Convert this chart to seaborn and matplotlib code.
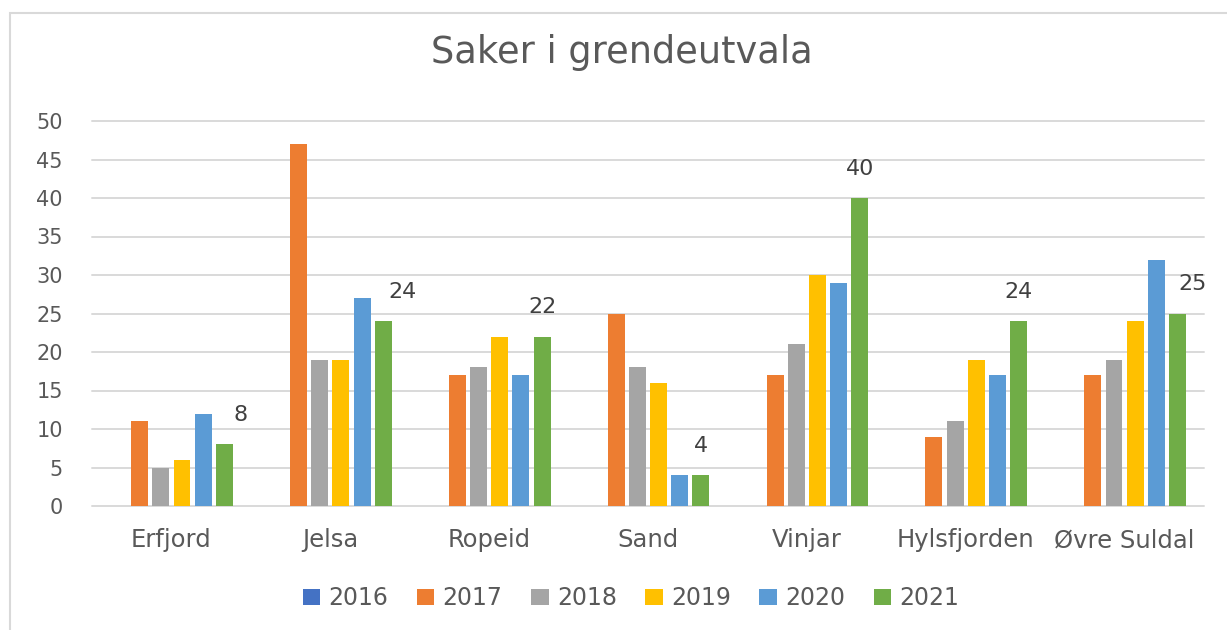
import numpy as np
import pandas as pd
import seaborn as sns
import matplotlib.pyplot as plt
from matplotlib.patches import Rectangle

# Data
grender = ["Erfjord", "Jelsa", "Ropeid", "Sand", "Vinjar", "Hylsfjorden", "Øvre Suldal"]
aar = ["2016", "2017", "2018", "2019", "2020", "2021"]
saker_2016 = [0, 0, 0, 0, 0, 0, 0]
saker_2017 = [11, 47, 17, 25, 17, 9, 17]
saker_2018 = [5, 19, 18, 18, 21, 11, 19]
saker_2019 = [6, 19, 22, 16, 30, 19, 24]
saker_2020 = [12, 27, 17, 4, 29, 17, 32]
saker_2021 = [8, 24, 22, 4, 40, 24, 25]

farger = ["#4472C4", "#ED7D31", "#A5A5A5", "#FFC000", "#5B9BD5", "#70AD47"]
# horizontal nudge (points) of the 2021 labels, as placed in the original
label_dx = [12, 14, 0, 0, 0, 0, 11]

rows = []
for year, vals in zip(aar, [saker_2016, saker_2017, saker_2018, saker_2019, saker_2020, saker_2021]):
    for g, v in zip(grender, vals):
        rows.append({"grend": g, "aar": year, "saker": v})
df = pd.DataFrame(rows)

sns.set_style("white")
plt.rcParams['font.family'] = ['DejaVu Sans']
txt = "#595959"

fig = plt.figure(figsize=(12.27, 6.3), dpi=100)
ax = fig.add_axes([92/1227, 1-506/630, (1204-92)/1227, (506-121)/630])

sns.barplot(data=df, x="grend", y="saker", hue="aar", hue_order=aar,
            palette=farger, saturation=1, width=0.8, gap=0.2, legend=False,
            edgecolor="none", linewidth=0, ax=ax)

ax.set_ylim(0, 50)
ax.set_yticks(np.arange(0, 51, 5))
ax.grid(axis="y", color="#D9D9D9", linewidth=1.4)
for gl in ax.get_ygridlines():
    gl.set_clip_on(False)
ax.set_axisbelow(True)
sns.despine(ax=ax, left=True, bottom=True, top=True, right=True)
ax.set_xlabel("")
ax.set_ylabel("")
ax.tick_params(axis="y", length=0, pad=21, labelsize=15, labelcolor=txt)
ax.tick_params(axis="x", length=0, pad=16, labelsize=17.5, labelcolor=txt)

# data labels for 2021 only
last = ax.containers[-1]
for bar, dx in zip(last.patches, label_dx):
    h = bar.get_height()
    ax.annotate(f"{h:.0f}", (bar.get_x() + bar.get_width()/2, h),
                xytext=(dx, 14), textcoords="offset points",
                ha="center", va="bottom", fontsize=16, color="#404040")

# title
fig.text(622/1227, 1-63/630, "Saker i grendeutvala", ha="center", va="baseline",
         fontsize=26.5, color=txt)

# legend
handles = [Rectangle((0, 0), 1, 1, facecolor=c, edgecolor="none") for c in farger]
fig.legend(handles, aar, loc="center", bbox_to_anchor=(631/1227, 1-598/630),
           ncol=6, frameon=False, fontsize=17, labelcolor=txt,
           handlelength=0.75, handleheight=0.65, handletextpad=0.35,
           columnspacing=1.2)

# chart frame
fig.add_artist(Rectangle((10/1227, -0.1), 1.2, 1-13/630+0.1, transform=fig.transFigure,
                         fill=False, edgecolor="#D9D9D9", linewidth=1.5))

fig.savefig("out.png", dpi=100, facecolor="white")
